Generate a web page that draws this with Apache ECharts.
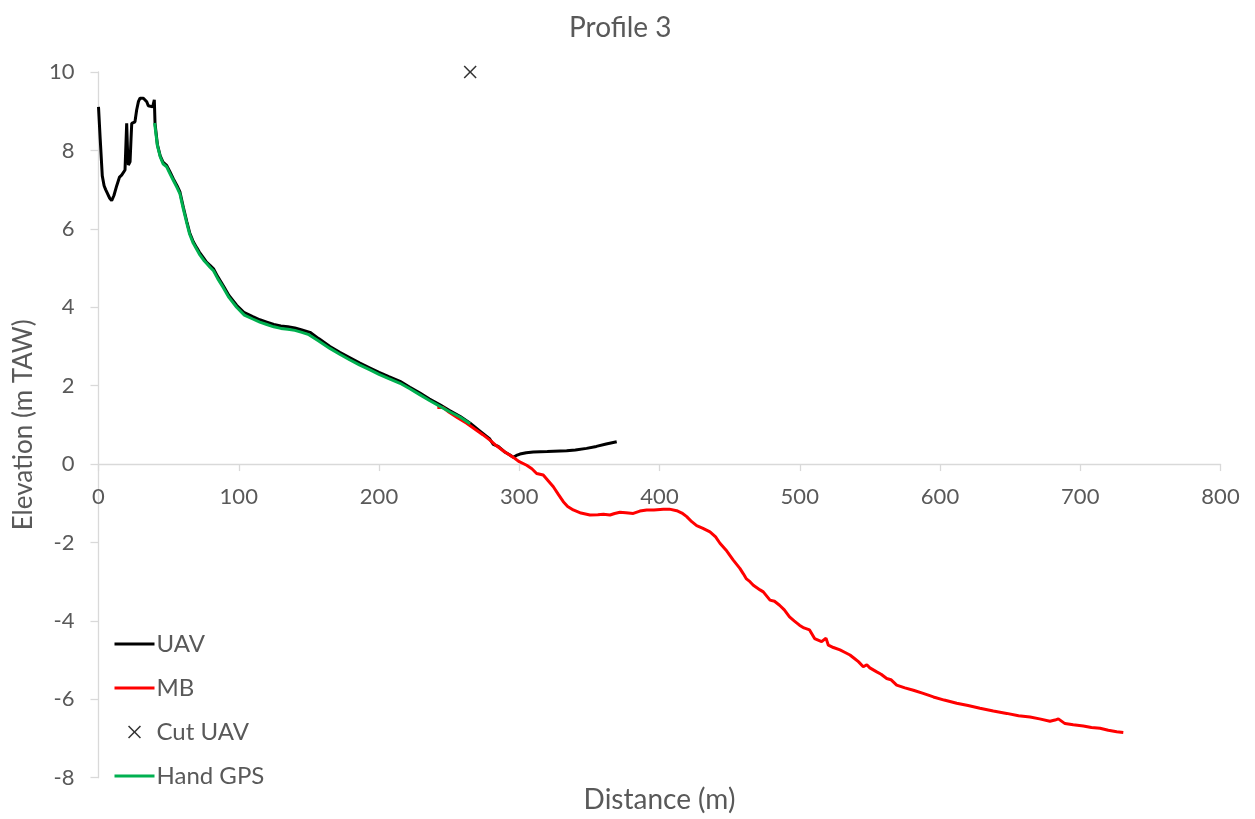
<!DOCTYPE html>
<html>
<head>
<meta charset="utf-8">
<script src="https://cdn.jsdelivr.net/npm/echarts@6/dist/echarts.min.js"></script>
<style>
  html, body { margin: 0; padding: 0; background: #fff; }
  #chart { width: 1255px; height: 819px; }
</style>
</head>
<body>
<div id="chart"></div>
<script>
// Profile 3: distance (m) vs elevation (m TAW)
const uav = [
  [0, 9.11], [1.2, 8.3], [2.7, 7.35], [4.0, 7.1], [5.1, 7.0], [6.5, 6.95], [8.0, 6.78], [9.4, 6.72],
  [11.0, 6.85], [13.0, 7.1], [15.0, 7.32], [16.5, 7.37], [18.9, 7.5], [19.6, 8.2], [20.1, 8.69],
  [20.7, 8.0], [21.3, 7.63], [22.5, 7.71], [23.2, 8.3], [23.7, 8.69], [26.0, 8.73], [27.2, 9.03],
  [28.5, 9.25], [29.6, 9.33], [32.0, 9.33], [33.2, 9.28], [34.4, 9.24], [35.5, 9.14], [36.7, 9.11],
  [38.6, 9.11], [39.8, 9.29], [40.3, 8.69], [42.0, 8.15], [44.0, 7.86], [46.0, 7.7], [48.6, 7.62],
  [51.0, 7.45], [53.3, 7.28], [56.0, 7.1], [58.0, 6.95], [60.5, 6.55], [63.0, 6.18], [65.0, 5.9],
  [67.6, 5.67], [70.0, 5.52], [72.0, 5.4], [75.0, 5.25], [77.0, 5.15], [79.5, 5.07], [82.0, 4.98],
  [85.0, 4.78], [89.0, 4.55], [93.0, 4.3], [98.5, 4.05], [104, 3.86], [110, 3.76], [115, 3.68],
  [120, 3.62], [125, 3.56], [130, 3.52], [135, 3.5], [140, 3.47], [145, 3.42], [150.8, 3.36],
  [157, 3.2], [165, 3.0], [172, 2.85], [179.3, 2.71], [186, 2.58], [193.6, 2.45], [200, 2.34],
  [207, 2.23], [215, 2.11], [222, 1.96], [229.2, 1.81], [236, 1.66], [243.5, 1.51], [250, 1.37],
  [257.7, 1.22], [265, 1.04], [272, 0.84], [279, 0.64], [281.5, 0.5], [285, 0.45], [290, 0.3],
  [293.4, 0.23], [295.8, 0.17], [298, 0.22], [300.5, 0.255], [305, 0.29], [310, 0.31], [320, 0.32],
  [333.8, 0.34], [340, 0.36], [348, 0.4], [355, 0.45], [362, 0.51], [369.5, 0.57]
];

const mb = [
  [241.6, 1.44], [245.8, 1.44], [250, 1.32], [256, 1.18], [262.5, 1.04], [268, 0.9], [274, 0.75],
  [279.1, 0.61], [284, 0.46], [290, 0.3], [295.8, 0.17], [300, 0.06], [305.3, -0.03], [309, -0.12],
  [312.4, -0.24], [317.1, -0.28], [320, -0.4], [324.3, -0.58], [328, -0.78], [331.4, -0.96],
  [334.5, -1.08], [338.5, -1.17], [344, -1.25], [350.4, -1.3], [356, -1.29], [360, -1.28],
  [364.7, -1.3], [368, -1.26], [371.8, -1.23], [376, -1.24], [381.3, -1.26], [386, -1.2],
  [390.9, -1.17], [396, -1.17], [402.7, -1.15], [407, -1.15], [412.3, -1.19], [416, -1.25],
  [419.4, -1.34], [423, -1.47], [426.5, -1.57], [431, -1.64], [436, -1.73], [440, -1.86],
  [443.1, -2.02], [448, -2.22], [452.6, -2.45], [457.3, -2.66], [459.8, -2.8], [462, -2.93],
  [464.5, -3.0], [466.9, -3.09], [471.7, -3.21], [474, -3.26], [478.8, -3.47], [482, -3.5],
  [485.6, -3.6], [489, -3.72], [492.7, -3.9], [496, -4.0], [499.8, -4.11], [503, -4.18],
  [507, -4.23], [510.6, -4.45], [515.6, -4.53], [518.7, -4.44], [520.4, -4.62], [524, -4.68],
  [528.7, -4.74], [532, -4.8], [535.8, -4.87], [539, -4.96], [541.8, -5.04], [545.3, -5.17],
  [547.8, -5.12], [550, -5.2], [554.9, -5.3], [558, -5.36], [562, -5.47], [565, -5.5],
  [569.1, -5.64], [575, -5.71], [581, -5.77], [588, -5.85], [595.3, -5.94], [603, -6.02],
  [611.9, -6.1], [620, -6.16], [628.5, -6.23], [638, -6.3], [647.6, -6.36], [656, -6.42],
  [664.2, -6.45], [671, -6.5], [678.4, -6.56], [682, -6.53], [684.4, -6.5], [689.1, -6.62],
  [695, -6.65], [702.2, -6.68], [708, -6.72], [714.1, -6.74], [720, -6.79], [726, -6.83],
  [730.7, -6.85]
];

const cutUav = [[265, 10.0]];

const handGps = [
  [40, 8.7], [42, 8.12], [44, 7.84], [46, 7.66], [48.6, 7.58], [51, 7.4], [53.3, 7.24], [56, 7.05],
  [58, 6.9], [60.5, 6.5], [63, 6.14], [65, 5.86], [67.6, 5.63], [70, 5.48], [72, 5.35], [75, 5.2],
  [77, 5.12], [79.5, 5.02], [82, 4.93], [85, 4.73], [89, 4.5], [93, 4.25], [98.5, 4.0], [104, 3.8],
  [110, 3.7], [115, 3.62], [120, 3.56], [125, 3.5], [130, 3.46], [135, 3.44], [140, 3.41],
  [145, 3.36], [150, 3.3], [157, 3.14], [165, 2.95], [172, 2.8], [179, 2.66], [186, 2.53],
  [193.6, 2.4], [200, 2.29], [207, 2.18], [215, 2.06], [222, 1.92], [229, 1.77], [236, 1.62],
  [243.5, 1.47], [250, 1.34], [257.7, 1.2], [265, 1.03]
];

const xTicks = { min: 0, max: 800, step: 100 };
const yTicks = { min: -8, max: 10, step: 2 };

const FONT = 'Lato';
const TEXT = '#595959';
const AXIS = '#d9d9d9';
const CROSS = 'path://M0,1L1,0L6,5L11,0L12,1L7,6L12,11L11,12L6,7L1,12L0,11L5,6Z';

// plot area in pixels
const GRID = { left: 98.5, right: 34.5, top: 72, bottom: 41.3 };
const plotH = 819 - GRID.top - GRID.bottom;
const plotMidX = GRID.left + (1255 - GRID.left - GRID.right) / 2;
// lift the distance axis so it sits on elevation 0
const zeroLift = plotH * (0 - yTicks.min) / (yTicks.max - yTicks.min);

const chart = echarts.init(document.getElementById('chart'), null, { renderer: 'canvas' });

// legend entries for the line series show only their stroke
const lineEntry = (name) => ({ name: name, itemStyle: { opacity: 0 } });

chart.setOption({
  animation: false,
  backgroundColor: '#ffffff',
  textStyle: { fontFamily: FONT, color: TEXT },
  title: {
    text: 'Profile 3',
    left: 564,
    top: 9,
    textStyle: { fontFamily: FONT, fontSize: 28, fontWeight: 'normal', color: TEXT }
  },
  grid: Object.assign({ containLabel: false }, GRID),
  xAxis: {
    type: 'value',
    min: xTicks.min, max: xTicks.max, interval: xTicks.step,
    offset: -zeroLift,
    axisLine: { show: true, onZero: false, lineStyle: { color: AXIS, width: 1.3 } },
    axisTick: { show: true, inside: false, length: 7, lineStyle: { color: AXIS, width: 1.3 } },
    axisLabel: { color: TEXT, fontSize: 22, fontFamily: FONT, margin: 22 },
    splitLine: { show: false }
  },
  yAxis: {
    type: 'value',
    min: yTicks.min, max: yTicks.max, interval: yTicks.step,
    name: 'Elevation (m TAW)',
    nameLocation: 'middle',
    nameGap: 62,
    nameTextStyle: { color: TEXT, fontSize: 26, fontFamily: FONT },
    axisLine: { show: true, onZero: false, lineStyle: { color: AXIS, width: 1.3 } },
    axisTick: { show: true, inside: false, length: 8, lineStyle: { color: AXIS, width: 1.3 } },
    axisLabel: { color: TEXT, fontSize: 22, fontFamily: FONT, margin: 24 },
    splitLine: { show: false }
  },
  graphic: [{
    type: 'text',
    x: plotMidX,
    y: 800,
    style: {
      text: 'Distance (m)', font: '28px ' + FONT, fill: TEXT,
      textAlign: 'center', textVerticalAlign: 'middle'
    }
  }],
  legend: {
    orient: 'vertical',
    left: 108,
    top: 627,
    itemWidth: 40,
    itemHeight: 13,
    itemGap: 20,
    lineStyle: { width: 3 },
    textStyle: { color: TEXT, fontSize: 24, fontFamily: FONT, padding: [0, 0, 0, -3] },
    data: [lineEntry('UAV'), lineEntry('MB'), { name: 'Cut UAV' }, lineEntry('Hand GPS')]
  },
  series: [
    {
      name: 'UAV', type: 'line', data: uav, symbol: 'none',
      lineStyle: { color: '#000000', width: 3 }, itemStyle: { color: '#000000' }
    },
    {
      name: 'MB', type: 'line', data: mb, symbol: 'none',
      lineStyle: { color: '#ff0000', width: 3 }, itemStyle: { color: '#ff0000' }
    },
    {
      name: 'Cut UAV', type: 'scatter', data: cutUav, symbol: CROSS, symbolSize: 13,
      itemStyle: { color: '#000000' }
    },
    {
      name: 'Hand GPS', type: 'line', data: handGps, symbol: 'none',
      lineStyle: { color: '#00b050', width: 3 }, itemStyle: { color: '#00b050' }
    }
  ]
});
</script>
</body>
</html>
